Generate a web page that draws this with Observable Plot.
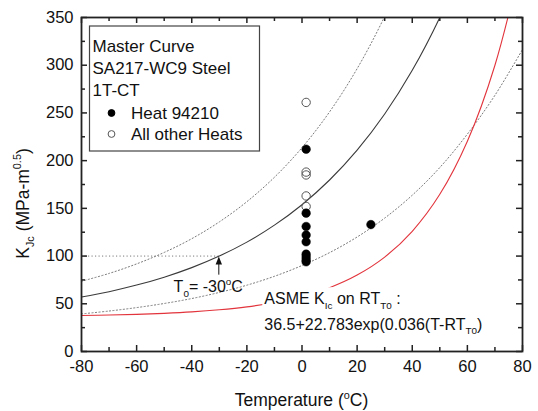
<!DOCTYPE html>
<html><head><meta charset="utf-8">
<script src="https://cdn.jsdelivr.net/npm/d3@7"></script>
<script src="https://cdn.jsdelivr.net/npm/@observablehq/plot@0.6"></script>
<style>body{margin:0;background:#fff} svg{display:block}</style>
</head><body><div id="chart"></div>
<script>
const FONT = "'Liberation Sans', Arial, Helvetica, sans-serif";

// Temperatures (°C) at which the curves were read
const temps = [-80,-70,-60,-50,-40,-30,-20,-10,0,10,20,30,40,50,60,70,80];
// Master curve (median), 95% and 5% bounds, ASME KIc curve (MPa-m^0.5)
const medianK = [57.1,62.7,69.6,77.9,87.9,100,114.6,132.4,153.8,179.7,211.0,248.9,294.7,350.1,417.0];
const upperK  = [73.6,81.8,91.8,103.8,118.2,135.8,157.0,182.6,213.6,251.1,296.4,351.2,417.5];
const lowerK  = [39.4,42.4,46.0,50.3,55.5,61.9,69.5,78.8,90.1,103.6,120.0,139.8,163.8,192.8,227.8,268.5,316.5];
const asmeK   = [37.7,38.2,38.9,40.0,41.5,43.7,46.8,51.3,57.7,66.9,80.1,98.9,126.0,164.7,220.3,300.0,414.2];

// Test data
const heatT  = [1.5,1.5,1.5,1.5,1.5,1.5,1.5,1.5,1.5,25];
const heatK  = [212,145,131,122,115,102,99,96,94,133];
const otherT = [1.5,1.5,1.5,1.5,1.5];
const otherK = [261,188,185,163,152];

// Axes
const xDomain = [-80, 80];
const yDomain = [0, 350];
const xTicks = [-80,-60,-40,-20,0,20,40,60,80];
const xMinor = [-70,-50,-30,-10,10,30,50,70];
const yTicks = [0,50,100,150,200,250,300,350];
const yMinor = [25,75,125,175,225,275,325];

// Legend / annotation text
const legendTitle = ["Master Curve","SA217-WC9 Steel","1T-CT"];
const legendSeries = ["Heat 94210","All other Heats"];
const t0Temp = -30, t0K = 100;
const t0ArrowK = [80, 99];
const t0LabelT = -46.4, t0LabelK = 62;
const asmeLabelT = -13.5, asmeLabelK = [49, 22.5];

const rows = (arr) => arr.map((k, i) => ({T: temps[i], K: k}));
const pts = (ts, ks) => ks.map((k, i) => ({T: ts[i], K: k}));

const W = 538, H = 411;
const mL = 81, mR = 16, mT = 17, mB = 60;
const pw = W - mL - mR, ph = H - mT - mB;

function rich(parent, x, y, parts, size, anchor = "start") {
  const t = parent.append("text").attr("x", x).attr("y", y)
    .attr("font-size", size).attr("text-anchor", anchor).attr("fill", "#111");
  let shift = 0;
  for (const [s, kind] of parts) {
    const target = kind === "sub" ? size * 0.3 : kind === "sup" ? -size * 0.42 : 0;
    t.append("tspan").attr("dy", target - shift)
      .attr("font-size", kind ? size * 0.62 : size).text(s);
    shift = target;
  }
  return t;
}

function overlay(index, scales, values, dims) {
  const {x, y} = scales;
  const g = d3.create("svg:g").attr("font-family", FONT).attr("text-anchor", "start");

  // Legend box
  const lx = dims.marginLeft + 8.5, ly = dims.marginTop + 9;
  g.append("rect").attr("x", lx).attr("y", ly).attr("width", 170).attr("height", 125)
    .attr("fill", "white").attr("stroke", "#444").attr("stroke-width", 1.2);
  legendTitle.forEach((s, i) => {
    g.append("text").attr("x", lx + 3).attr("y", ly + 26 + i * 22.2).attr("text-anchor", "start")
      .attr("font-size", 17).attr("fill", "#111").text(s);
  });
  legendSeries.forEach((s, i) => {
    const by = ly + 92.5 + i * 21;
    g.append("circle").attr("cx", lx + 22).attr("cy", by - 5.5).attr("r", 3.4)
      .attr("fill", i === 0 ? "#000" : "white").attr("stroke", i === 0 ? "#000" : "#555").attr("stroke-width", 1);
    g.append("text").attr("x", lx + 41.5).attr("y", by).attr("text-anchor", "start")
      .attr("font-size", 17).attr("fill", "#111").text(s);
  });

  // T0 arrow
  const ax = x(t0Temp), tipY = y(t0ArrowK[1]), tailY = y(t0ArrowK[0]);
  g.append("line").attr("x1", ax).attr("x2", ax).attr("y1", tipY + 5).attr("y2", tailY)
    .attr("stroke", "#111").attr("stroke-width", 1);
  g.append("path").attr("d", `M${ax},${tipY}L${ax - 3.2},${tipY + 8}L${ax + 3.2},${tipY + 8}Z`).attr("fill", "#111");
  rich(g, x(t0LabelT), y(t0LabelK), [["T", ""], ["0", "sub"], ["= -30", ""], ["o", "sup"], ["C", ""]], 16);

  // ASME label (first line has an opaque background)
  const sx = x(asmeLabelT), sy1 = y(asmeLabelK[0]), sy2 = y(asmeLabelK[1]);
  g.append("rect").attr("x", sx - 2).attr("y", sy1 - 17).attr("width", 139).attr("height", 23).attr("fill", "white");
  rich(g, sx, sy1, [["ASME K", ""], ["Ic", "sub"], [" on RT", ""], ["T0", "sub"], [" :", ""]], 16);
  rich(g, sx, sy2, [["36.5+22.783exp(0.036(T-RT", ""], ["T0", "sub"], [")", ""]], 16);

  // Axis titles
  rich(g, dims.marginLeft + (dims.width - dims.marginLeft - dims.marginRight) / 2, 406,
    [["Temperature (", ""], ["o", "sup"], ["C)", ""]], 17.5, "middle");
  const yl = g.append("g").attr("transform", "translate(28.5,203.5) rotate(-90)");
  rich(yl, 0, 0, [["K", ""], ["Jc", "sub"], [" (MPa-m", ""], ["0.5", "sup"], [")", ""]], 17.5, "middle");
  return g.node();
}

const dotted = {stroke: "#7a7a7a", strokeWidth: 1, strokeDasharray: "1.2,2.3"};

const chart = Plot.plot({
  width: W, height: H,
  marginLeft: mL, marginRight: mR, marginTop: mT, marginBottom: mB,
  style: {fontFamily: FONT, fontSize: "16.5px", color: "#111", background: "white"},
  x: {domain: xDomain},
  y: {domain: yDomain},
  marks: [
    Plot.ruleY([t0K], {x1: xDomain[0], x2: t0Temp, ...dotted}),
    Plot.line(rows(lowerK), {x: "T", y: "K", curve: "catmull-rom", clip: true, ...dotted}),
    Plot.line(rows(upperK), {x: "T", y: "K", curve: "catmull-rom", clip: true, ...dotted}),
    Plot.line(rows(medianK), {x: "T", y: "K", curve: "catmull-rom", clip: true, stroke: "#3a3a3a", strokeWidth: 1.1}),
    Plot.line(rows(asmeK), {x: "T", y: "K", curve: "catmull-rom", clip: true, stroke: "#e2343c", strokeWidth: 1.1}),
    Plot.dot(pts(otherT, otherK), {x: "T", y: "K", r: 4.2, stroke: "#555", strokeWidth: 1, fill: "none"}),
    Plot.dot(pts(heatT, heatK), {x: "T", y: "K", r: 4.3, fill: "#000", stroke: "#000", strokeWidth: 0.5}),
    overlay,
    // inward ticks on all four sides
    Plot.ruleX(xTicks, {x: d => d, insetTop: ph - 6, stroke: "#222", strokeWidth: 1.5}),
    Plot.ruleX(xTicks, {x: d => d, insetBottom: ph - 6, stroke: "#222", strokeWidth: 1.5}),
    Plot.ruleX(xMinor, {x: d => d, insetTop: ph - 4, stroke: "#222", strokeWidth: 1.5}),
    Plot.ruleX(xMinor, {x: d => d, insetBottom: ph - 4, stroke: "#222", strokeWidth: 1.5}),
    Plot.ruleY(yTicks, {y: d => d, insetRight: pw - 6, stroke: "#222", strokeWidth: 1.5}),
    Plot.ruleY(yTicks, {y: d => d, insetLeft: pw - 6, stroke: "#222", strokeWidth: 1.5}),
    Plot.ruleY(yMinor, {y: d => d, insetRight: pw - 4, stroke: "#222", strokeWidth: 1.5}),
    Plot.ruleY(yMinor, {y: d => d, insetLeft: pw - 4, stroke: "#222", strokeWidth: 1.5}),
    Plot.frame({stroke: "#222", strokeWidth: 1.8}),
    Plot.axisX(xTicks, {anchor: "bottom", tickSize: 0, tickPadding: 9, label: null, tickFormat: d => String(d), fill: "#111"}),
    Plot.axisY(yTicks, {anchor: "left", tickSize: 0, tickPadding: 8, label: null, tickFormat: d => String(d), fill: "#111"})
  ]
});
document.getElementById("chart").appendChild(chart);
</script>
</body></html>
